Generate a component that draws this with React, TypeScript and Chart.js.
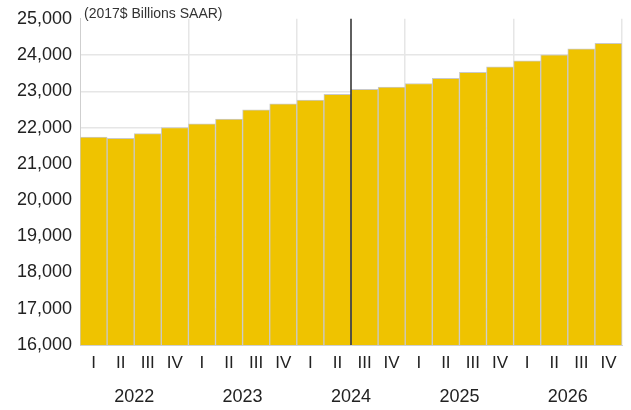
import React, { useEffect, useRef } from "react";
import { Chart, registerables } from "chart.js";

Chart.register(...registerables);

const quarterLabels = [
  "I", "II", "III", "IV",
  "I", "II", "III", "IV",
  "I", "II", "III", "IV",
  "I", "II", "III", "IV",
  "I", "II", "III", "IV",
];
const yearLabels = ["2022", "2023", "2024", "2025", "2026"];
const gdpValues = [
  21740, 21705, 21830, 22000,
  22105, 22235, 22490, 22655,
  22760, 22915, 23055, 23115,
  23215, 23355, 23520, 23675,
  23840, 24005, 24170, 24325,
];
const forecastStartIndex = 10;
const unitLabel = "(2017$ Billions SAAR)";
const yMin = 16000;
const yMax = 25000;
const yStep = 1000;

const FONT = "'Liberation Sans', Arial, sans-serif";
const TEXT = "#222222";

const forecastLinePlugin = {
  id: "forecastLine",
  afterDatasetsDraw(chart: any) {
    const x = chart.scales.x;
    const area = chart.chartArea;
    const px = (x.getPixelForValue(forecastStartIndex - 1) + x.getPixelForValue(forecastStartIndex)) / 2;
    const ctx = chart.ctx;
    ctx.save();
    ctx.strokeStyle = "#2a2a2a";
    ctx.lineWidth = 1.5;
    ctx.beginPath();
    ctx.moveTo(px, area.top);
    ctx.lineTo(px, area.bottom);
    ctx.stroke();
    ctx.restore();
  },
};

const unitLabelPlugin = {
  id: "unitLabel",
  afterDraw(chart: any) {
    const area = chart.chartArea;
    const ctx = chart.ctx;
    ctx.save();
    ctx.font = `14px ${FONT}`;
    ctx.fillStyle = "#333333";
    ctx.textBaseline = "middle";
    ctx.textAlign = "left";
    ctx.fillText(unitLabel, area.left + 4, 14);
    ctx.restore();
  },
};

export default function App() {
  const canvasRef = useRef<HTMLCanvasElement | null>(null);

  useEffect(() => {
    if (!canvasRef.current) return;
    const chart = new Chart(canvasRef.current, {
      type: "bar",
      data: {
        labels: quarterLabels,
        datasets: [
          {
            data: gdpValues,
            backgroundColor: "#EFC300",
            borderColor: "#C9C9C9",
            borderWidth: 1,
            categoryPercentage: 1,
            barPercentage: 1,
          },
        ],
      },
      options: {
        responsive: false,
        animation: false,
        layout: { padding: { top: 17.5, right: 9, left: 0, bottom: 0 } },
        plugins: {
          legend: { display: false },
          tooltip: { enabled: false },
        },
        scales: {
          x: {
            type: "category",
            position: "bottom",
            weight: 0,
            offset: true,
            grid: { display: false, drawTicks: false, offset: true },
            border: { display: true, color: "#CFCFCF", width: 1 },
            ticks: {
              color: TEXT,
              font: { family: FONT, size: 17 },
              padding: 8,
              maxRotation: 0,
              autoSkip: false,
            },
            afterFit(scale: any) {
              scale.height = 32;
            },
          },
          years: {
            type: "category",
            axis: "x",
            position: "bottom",
            weight: 1,
            labels: yearLabels,
            offset: true,
            grid: {
              display: true,
              offset: true,
              drawTicks: false,
              drawOnChartArea: true,
              lineWidth: 1.5,
              color: (ctx: any) =>
                ctx.index === 0 || ctx.index === yearLabels.length ? "rgba(0,0,0,0)" : "#E6E6E6",
            },
            border: { display: false },
            ticks: {
              color: TEXT,
              font: { family: FONT, size: 18 },
              padding: 9,
              maxRotation: 0,
              autoSkip: false,
            },
            afterFit(scale: any) {
              scale.height = 33;
            },
          },
          y: {
            type: "linear",
            min: yMin,
            max: yMax,
            ticks: {
              stepSize: yStep,
              color: TEXT,
              font: { family: FONT, size: 18 },
              padding: 8,
            },
            grid: {
              drawTicks: false,
              lineWidth: 1.5,
              color: (ctx: any) =>
                ctx.tick && ctx.tick.value === yMax ? "rgba(0,0,0,0)" : "#E6E6E6",
            },
            border: { display: true, color: "#CFCFCF", width: 1 },
            afterFit(scale: any) {
              scale.width = 80;
            },
          },
        },
      },
      plugins: [forecastLinePlugin, unitLabelPlugin],
    } as any);
    return () => chart.destroy();
  }, []);

  return (
    <div style={{ position: "absolute", left: 0, top: 0, width: 631, height: 410, background: "#fff" }}>
      <canvas ref={canvasRef} width={631} height={410} style={{ display: "block" }} />
    </div>
  );
}
